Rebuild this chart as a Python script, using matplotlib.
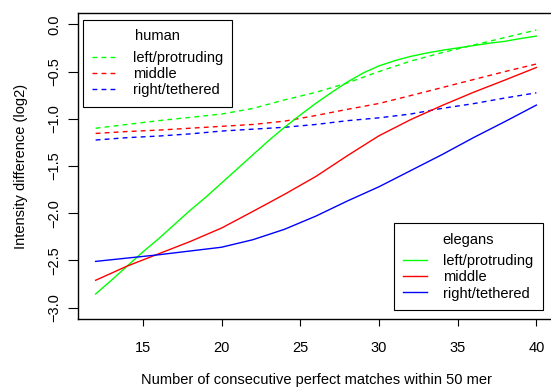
import matplotlib
matplotlib.use("Agg")
import matplotlib.pyplot as plt

plt.rcParams["font.family"] = ["Liberation Sans", "DejaVu Sans"]

match_len = [12, 14, 16, 18, 20, 22, 24, 26, 28, 30, 32, 34, 36, 38, 40]
match_len_fine = list(range(12, 41))

# human (dashed)
human_left = [-1.10, -1.06, -1.02, -0.985, -0.95, -0.89, -0.80, -0.72, -0.62, -0.50, -0.39, -0.30, -0.22, -0.14, -0.06]
human_middle = [-1.155, -1.135, -1.12, -1.10, -1.08, -1.06, -1.025, -0.965, -0.90, -0.838, -0.755, -0.67, -0.585, -0.50, -0.42]
human_right = [-1.225, -1.20, -1.183, -1.16, -1.13, -1.11, -1.09, -1.06, -1.02, -0.99, -0.95, -0.89, -0.84, -0.78, -0.725]

# elegans (solid); left/protruding is sampled every match length
elegans_left = [-2.855, -2.71, -2.56, -2.41, -2.27, -2.12, -1.97, -1.83, -1.68, -1.53,
                -1.38, -1.23, -1.09, -0.96, -0.835, -0.72, -0.61, -0.515, -0.44, -0.385,
                -0.34, -0.305, -0.275, -0.25, -0.225, -0.20, -0.18, -0.15, -0.125]
elegans_middle = [-2.71, -2.56, -2.43, -2.30, -2.157, -1.98, -1.80, -1.61, -1.39, -1.18, -1.01, -0.86, -0.72, -0.59, -0.457]
elegans_right = [-2.51, -2.475, -2.44, -2.40, -2.36, -2.28, -2.17, -2.03, -1.87, -1.72, -1.55, -1.38, -1.20, -1.03, -0.855]

series_labels = ["left/protruding", "middle", "right/tethered"]
series_colors = ["#00ff00", "#ff0000", "#0000ff"]

x_ticks = [15, 20, 25, 30, 35, 40]
y_ticks = [0.0, -0.5, -1.0, -1.5, -2.0, -2.5, -3.0]
y_ticklabels = ["0.0", "\u22120.5", "\u22121.0", "\u22121.5", "\u22122.0", "\u22122.5", "\u22123.0"]

W, H = 551, 387
fig = plt.figure(figsize=(W / 100, H / 100), dpi=100)
ax = fig.add_axes([78 / W, 1 - 319 / H, (554 - 78) / W, (319 - 13) / H])

fs = 10.5
dash = (0, (3.5, 3.0))
human_handles = []
for vals, lab, col in zip([human_left, human_middle, human_right], series_labels, series_colors):
    h, = ax.plot(match_len, vals, color=col, lw=1.0, linestyle=dash, label=lab)
    human_handles.append(h)

elegans_handles = []
for xs, vals, lab, col in zip([match_len_fine, match_len, match_len],
                              [elegans_left, elegans_middle, elegans_right],
                              series_labels, series_colors):
    h, = ax.plot(xs, vals, color=col, lw=1.0, label=lab)
    elegans_handles.append(h)

ax.set_xlim(10.88, 41.12)
ax.set_ylim(-3.12, 0.12)
ax.set_xticks(x_ticks)
ax.set_xticklabels([str(t) for t in x_ticks], fontsize=fs)
ax.set_yticks(y_ticks)
ax.set_yticklabels(y_ticklabels, fontsize=fs, rotation=90, va="center")
ax.tick_params(axis="x", length=5, width=0.8, pad=11)
ax.tick_params(axis="y", length=7, width=0.8, pad=5)
for sp in ax.spines.values():
    sp.set_linewidth(1.0)

ax.set_xlabel("Number of consecutive perfect matches within 50 mer", fontsize=fs, labelpad=13)
ax.set_ylabel("Intensity difference (log2)", fontsize=fs, labelpad=14)

leg_kw = dict(fontsize=fs, title_fontsize=fs, fancybox=False, edgecolor="black",
              framealpha=1, borderaxespad=0, handlelength=1.65, handletextpad=1.1,
              labelspacing=0.15, borderpad=0.65)


def style_legend(leg):
    leg.get_frame().set_linewidth(0.8)
    # extra room between the title and the entries
    leg._legend_box.sep = 5.5


leg1 = ax.legend(handles=human_handles, title="human", loc="upper left",
                 bbox_to_anchor=(83 / W, 1 - 20 / H), bbox_transform=fig.transFigure, **leg_kw)
style_legend(leg1)
ax.add_artist(leg1)
leg2 = ax.legend(handles=elegans_handles, title="elegans", loc="lower right",
                 bbox_to_anchor=(543 / W, 1 - 310 / H), bbox_transform=fig.transFigure, **leg_kw)
style_legend(leg2)

fig.savefig("out.png", dpi=100)
